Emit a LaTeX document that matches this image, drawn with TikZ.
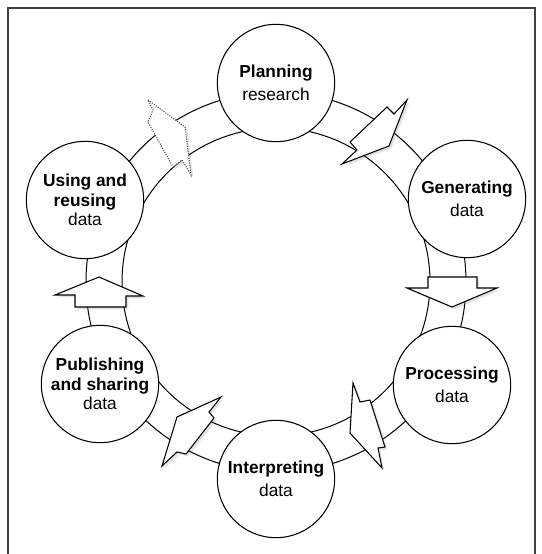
\documentclass[tikz,border=0pt]{standalone}
\usepackage{fontspec}
\setmainfont{Liberation Sans}
\usetikzlibrary{shadows}

\tikzset{
  stage/.style={circle, draw, fill=white, line width=.8pt, minimum size=88pt,
    inner sep=0pt, align=center, font=\fontsize{13}{14.5}\selectfont},
  blockarrow/.style={draw, fill=white, line width=.8pt, line join=miter,
    drop shadow={shadow xshift=1.8pt, shadow yshift=-1.8pt, opacity=.22}},
}

\begin{document}
\begin{tikzpicture}[x=.75pt, y=-.75pt]
\useasboundingbox (0,0) rectangle (542,554);
\draw[black!75, line width=.8pt] (8,8) rectangle (535,570);

% the ring
\coordinate (c) at (276,282);
\draw[line width=.75pt] (c) circle (154) (c) circle (190);

% stages of the cycle
\node[stage] (plan)   at (276,83)  {\textbf{Planning}\\[2.5pt]research};
\node[stage] (gen)    at (467,199) {\textbf{Generating}\\[2.5pt]data};
\node[stage] (proc)   at (452,385) {\textbf{Processing}\\[2.5pt]data};
\node[stage] (interp) at (276,479) {\textbf{Interpreting}\\[2.5pt]data};
\node[stage] (publ)   at (100,384) {\textbf{Publishing}\\\textbf{and sharing}\\data};
\node[stage] (reuse)  at (85,200)  {\textbf{Using and}\\\textbf{reusing}\\data};

% block arrows on the ring
\draw[blockarrow] (407,100) -- (394,114) -- (387,107) -- (350,142) -- (357,150)
  -- (342,164) -- (389,146) -- cycle;
\draw[blockarrow] (428,277) -- (477,277) -- (477,288) -- (497,288) -- (452,307)
  -- (407,288) -- (428,288) -- cycle;
\draw[blockarrow] (353,383) -- (360,402) -- (370,400) -- (385,447) -- (378,448)
  -- (382,468) -- (350,433) -- cycle;
\draw[blockarrow] (221,397) -- (209,412) -- (214,418) -- (186,454) -- (177,452)
  -- (162,466) -- (177,417) -- cycle;
\draw[blockarrow] (75,307) -- (126,307) -- (126,296) -- (143,296) -- (99,277)
  -- (55,295) -- (75,295) -- cycle;
% last step, not closed yet
\draw[blockarrow, draw=black!70, densely dotted] (148,100) -- (185,127) -- (191,175)
  -- (182,160) -- (173,167) -- (148,122) -- (153,110) -- cycle;
\end{tikzpicture}
\end{document}
